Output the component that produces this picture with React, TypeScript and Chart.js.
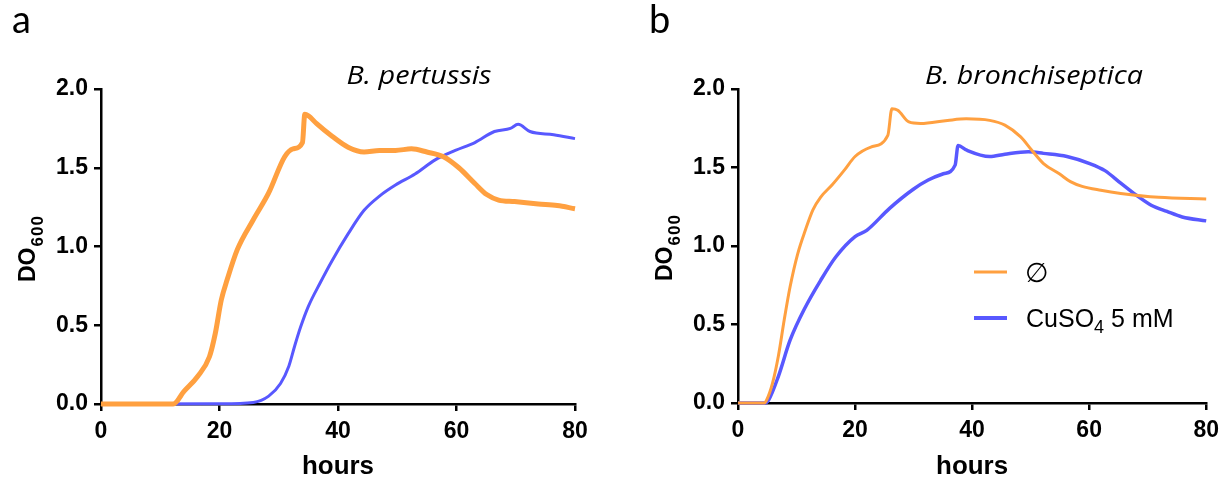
import React, { useEffect, useRef } from "react";
import { Chart, registerables } from "chart.js";

Chart.register(...registerables);

// ---------- data ----------
const xTicks = [0, 20, 40, 60, 80];
const yTicks = [0, 0.5, 1.0, 1.5, 2.0];

const hoursA_ctrl = [0, 12.2, 14, 16.3, 18.3, 19.3, 20.3, 21.3, 23, 25.7, 28.3, 31, 32.4, 34.0, 34.4, 35.0, 36.4, 39, 41.7, 44.4, 47, 49.7, 52.4, 55, 57.8, 60.4, 63.1, 65.1, 67.1, 69.8, 73.8, 77, 80];
const odA_ctrl = [0, 0, 0.08, 0.175, 0.30, 0.45, 0.66, 0.79, 0.98, 1.17, 1.34, 1.57, 1.62, 1.66, 1.84, 1.83, 1.78, 1.70, 1.63, 1.60, 1.61, 1.61, 1.62, 1.60, 1.57, 1.50, 1.40, 1.33, 1.295, 1.285, 1.27, 1.26, 1.24];

const hoursA_cu = [0, 20, 25.7, 28.3, 30.3, 31.7, 32.7, 33.7, 35, 37, 39, 41.7, 44.4, 47, 49.7, 53, 56.4, 59.8, 63.1, 66.4, 69.1, 70.4, 72.4, 76.4, 80];
const odA_cu = [0, 0.002, 0.01, 0.05, 0.13, 0.24, 0.37, 0.49, 0.62, 0.77, 0.91, 1.08, 1.23, 1.32, 1.39, 1.46, 1.55, 1.61, 1.66, 1.73, 1.75, 1.776, 1.73, 1.71, 1.685];

const hoursB_ctrl = [0, 4.5, 4.9, 5.9, 6.9, 7.9, 8.9, 10.2, 11.5, 12.8, 14.1, 16.1, 18.1, 20, 22.7, 25.6, 26.3, 27.3, 29.2, 31.2, 35.8, 39, 43, 45.6, 48.3, 50.2, 52.2, 54.9, 56.8, 58.8, 62, 65.4, 71.9, 80];
const odB_ctrl = [0, 0, 0.02, 0.127, 0.30, 0.53, 0.74, 0.95, 1.10, 1.23, 1.31, 1.39, 1.48, 1.57, 1.63, 1.705, 1.875, 1.865, 1.79, 1.78, 1.80, 1.81, 1.80, 1.77, 1.695, 1.61, 1.525, 1.46, 1.41, 1.38, 1.355, 1.335, 1.31, 1.30];

const hoursB_cu = [0, 4.6, 5.25, 6.9, 8.9, 11.5, 14.1, 16.7, 20, 22, 25.9, 29.9, 32.5, 35.1, 37.1, 37.6, 39.1, 43, 45.6, 49.6, 52.2, 56.2, 60.1, 62.7, 65.4, 68, 70.6, 73.3, 75.9, 80];
const odB_cu = [0, 0, 0.02, 0.17, 0.40, 0.61, 0.78, 0.93, 1.06, 1.10, 1.24, 1.36, 1.42, 1.46, 1.515, 1.64, 1.61, 1.57, 1.585, 1.60, 1.59, 1.57, 1.525, 1.48, 1.40, 1.325, 1.26, 1.22, 1.185, 1.16];

const seriesNames = ["∅", "CuSO4 5 mM"];
const panelLetters = ["a", "b"];
const panelTitles = ["B. pertussis", "B. bronchiseptica"];
const xTitle = "hours";

const ORANGE = "#FFA040";
const BLUE = "#5858FF";

const W = 613;
const H = 479;

type PanelCfg = {
  left: number;
  right: number;
  top: number;
  bottom: number;
  letter: string;
  letterX: number;
  title: string;
  titleX: number;
  titleW: number;
  yLabelX: number;
  yLabelY: number;
  legend: boolean;
  ctrlW: number;
  cuW: number;
  hc: number[]; vc: number[]; hu: number[]; vu: number[];
};

function toPts(h: number[], v: number[]) {
  return h.map((x, i) => ({ x, y: v[i] }));
}

function fillFit(ctx: CanvasRenderingContext2D, text: string, cx: number, y: number, targetW: number) {
  const w = ctx.measureText(text).width;
  const sx = targetW / w;
  ctx.save();
  ctx.translate(cx, y);
  ctx.scale(sx, 1);
  ctx.textAlign = "center";
  ctx.fillText(text, 0, 0);
  ctx.restore();
}

function Panel({ cfg, offset }: { cfg: PanelCfg; offset: number }) {
  const ref = useRef<HTMLCanvasElement | null>(null);
  useEffect(() => {
    const canvas = ref.current!;
    const textPlugin = {
      id: "texts",
      afterDraw(chart: any) {
        const ctx = chart.ctx as CanvasRenderingContext2D;
        const ca = chart.chartArea;
        ctx.save();
        ctx.fillStyle = "#000";
        ctx.textBaseline = "alphabetic";
        // panel letter
        ctx.font = "38px Lato";
        ctx.textAlign = "left";
        ctx.fillText(cfg.letter, cfg.letterX, 33);
        // title
        ctx.font = "italic 26px 'Open Sans'";
        fillFit(ctx, cfg.title, cfg.titleX, 84, cfg.titleW);
        // x title
        ctx.font = "bold 25px 'Liberation Sans', Arial";
        fillFit(ctx, xTitle, (ca.left + ca.right) / 2, 474, 72);
        // y title rotated DO600
        ctx.save();
        ctx.translate(cfg.yLabelX, cfg.yLabelY);
        ctx.rotate(-Math.PI / 2);
        ctx.textAlign = "left";
        ctx.font = "bold 23px 'Liberation Sans', Arial";
        ctx.fillText("DO", 0, 0);
        const w = ctx.measureText("DO").width;
        ctx.font = "bold 17px 'Liberation Sans', Arial";
        (ctx as any).letterSpacing = "1px";
        ctx.fillText("600", w + 1, 8);
        (ctx as any).letterSpacing = "0px";
        ctx.restore();
        // legend
        if (cfg.legend) {
          const lx = 974 - offset;
          const tx = 1026 - offset;
          const rows = [
            { y: 272, color: ORANGE, w: 3 },
            { y: 318, color: BLUE, w: 4 },
          ];
          rows.forEach((r) => {
            ctx.strokeStyle = r.color;
            ctx.lineWidth = r.w;
            ctx.beginPath();
            ctx.moveTo(lx, r.y);
            ctx.lineTo(lx + 33, r.y);
            ctx.stroke();
          });
          ctx.textAlign = "left";
          ctx.font = "27px 'Liberation Sans', 'DejaVu Sans'";
          ctx.fillText(seriesNames[0], tx - 1, 282);
          const base = "CuSO";
          ctx.font = "25px 'Liberation Sans'";
          ctx.fillText(base, tx, 327);
          let x = tx + ctx.measureText(base).width;
          ctx.font = "18px 'Liberation Sans'";
          ctx.fillText("4", x, 333);
          x += ctx.measureText("4").width;
          ctx.font = "25px 'Liberation Sans'";
          ctx.fillText(" 5 mM", x, 327);
        }
        ctx.restore();
      },
    };

    const tickFont = { family: "'Liberation Sans', Arial", size: 23, weight: "bold" as const };
    const chart = new Chart(canvas, {
      type: "line",
      data: {
        datasets: [
          {
            label: seriesNames[0],
            data: toPts(cfg.hc, cfg.vc),
            borderColor: ORANGE,
            borderWidth: cfg.ctrlW,
            pointRadius: 0,
            cubicInterpolationMode: "monotone",
            clip: false,
          },
          {
            label: seriesNames[1],
            data: toPts(cfg.hu, cfg.vu),
            borderColor: BLUE,
            borderWidth: cfg.cuW,
            pointRadius: 0,
            cubicInterpolationMode: "monotone",
            clip: false,
          },
        ],
      },
      options: {
        responsive: false,
        animation: false,
        devicePixelRatio: 1,
        layout: {
          padding: { left: 0, top: cfg.top, right: W - cfg.right, bottom: 0 },
        },
        plugins: { legend: { display: false }, tooltip: { enabled: false }, title: { display: false } },
        scales: {
          x: {
            type: "linear",
            min: 0,
            max: 80,
            afterBuildTicks: (s: any) => {
              s.ticks = xTicks.map((v) => ({ value: v }));
            },
            afterFit: (s: any) => {
              s.height = H - cfg.bottom;
            },
            ticks: { color: "#000", font: tickFont, padding: 7, maxRotation: 0 },
            grid: { drawOnChartArea: false, drawTicks: true, tickLength: 7, color: "#000", lineWidth: 2.5 },
            border: { display: true, color: "#000", width: 2.5 },
          },
          y: {
            type: "linear",
            min: 0,
            max: 2,
            afterBuildTicks: (s: any) => {
              s.ticks = yTicks.map((v) => ({ value: v }));
            },
            afterFit: (s: any) => {
              s.width = cfg.left;
            },
            ticks: {
              color: "#000",
              font: tickFont,
              padding: 6,
              callback: (v: any) => Number(v).toFixed(1),
            },
            grid: { drawOnChartArea: false, drawTicks: true, tickLength: 7, color: "#000", lineWidth: 2.5 },
            border: { display: true, color: "#000", width: 2.5 },
          },
        },
      },
      plugins: [textPlugin],
    } as any);
    return () => chart.destroy();
  }, []);
  return (
    <canvas
      ref={ref}
      width={W}
      height={H}
      style={{ position: "absolute", left: offset, top: 0, width: W, height: H }}
    />
  );
}

const panelA: PanelCfg = {
  left: 101, right: 575, top: 89, bottom: 404,
  letter: panelLetters[0], letterX: 12,
  title: panelTitles[0], titleX: 419, titleW: 145,
  yLabelX: 35, yLabelY: 282, legend: false, ctrlW: 5, cuW: 3,
  hc: hoursA_ctrl, vc: odA_ctrl, hu: hoursA_cu, vu: odA_cu,
};

const panelB: PanelCfg = {
  left: 738 - 613, right: 1209 - 613, top: 89, bottom: 403,
  letter: panelLetters[1], letterX: 36,
  title: panelTitles[1], titleX: 1034 - 613, titleW: 218,
  yLabelX: 672 - 613, yLabelY: 281, legend: true, ctrlW: 3, cuW: 3.5,
  hc: hoursB_ctrl, vc: odB_ctrl, hu: hoursB_cu, vu: odB_cu,
};

export default function App() {
  return (
    <div style={{ position: "absolute", left: 0, top: 0, width: 1226, height: 479, background: "#fff" }}>
      <Panel cfg={panelA} offset={0} />
      <Panel cfg={panelB} offset={613} />
    </div>
  );
}
